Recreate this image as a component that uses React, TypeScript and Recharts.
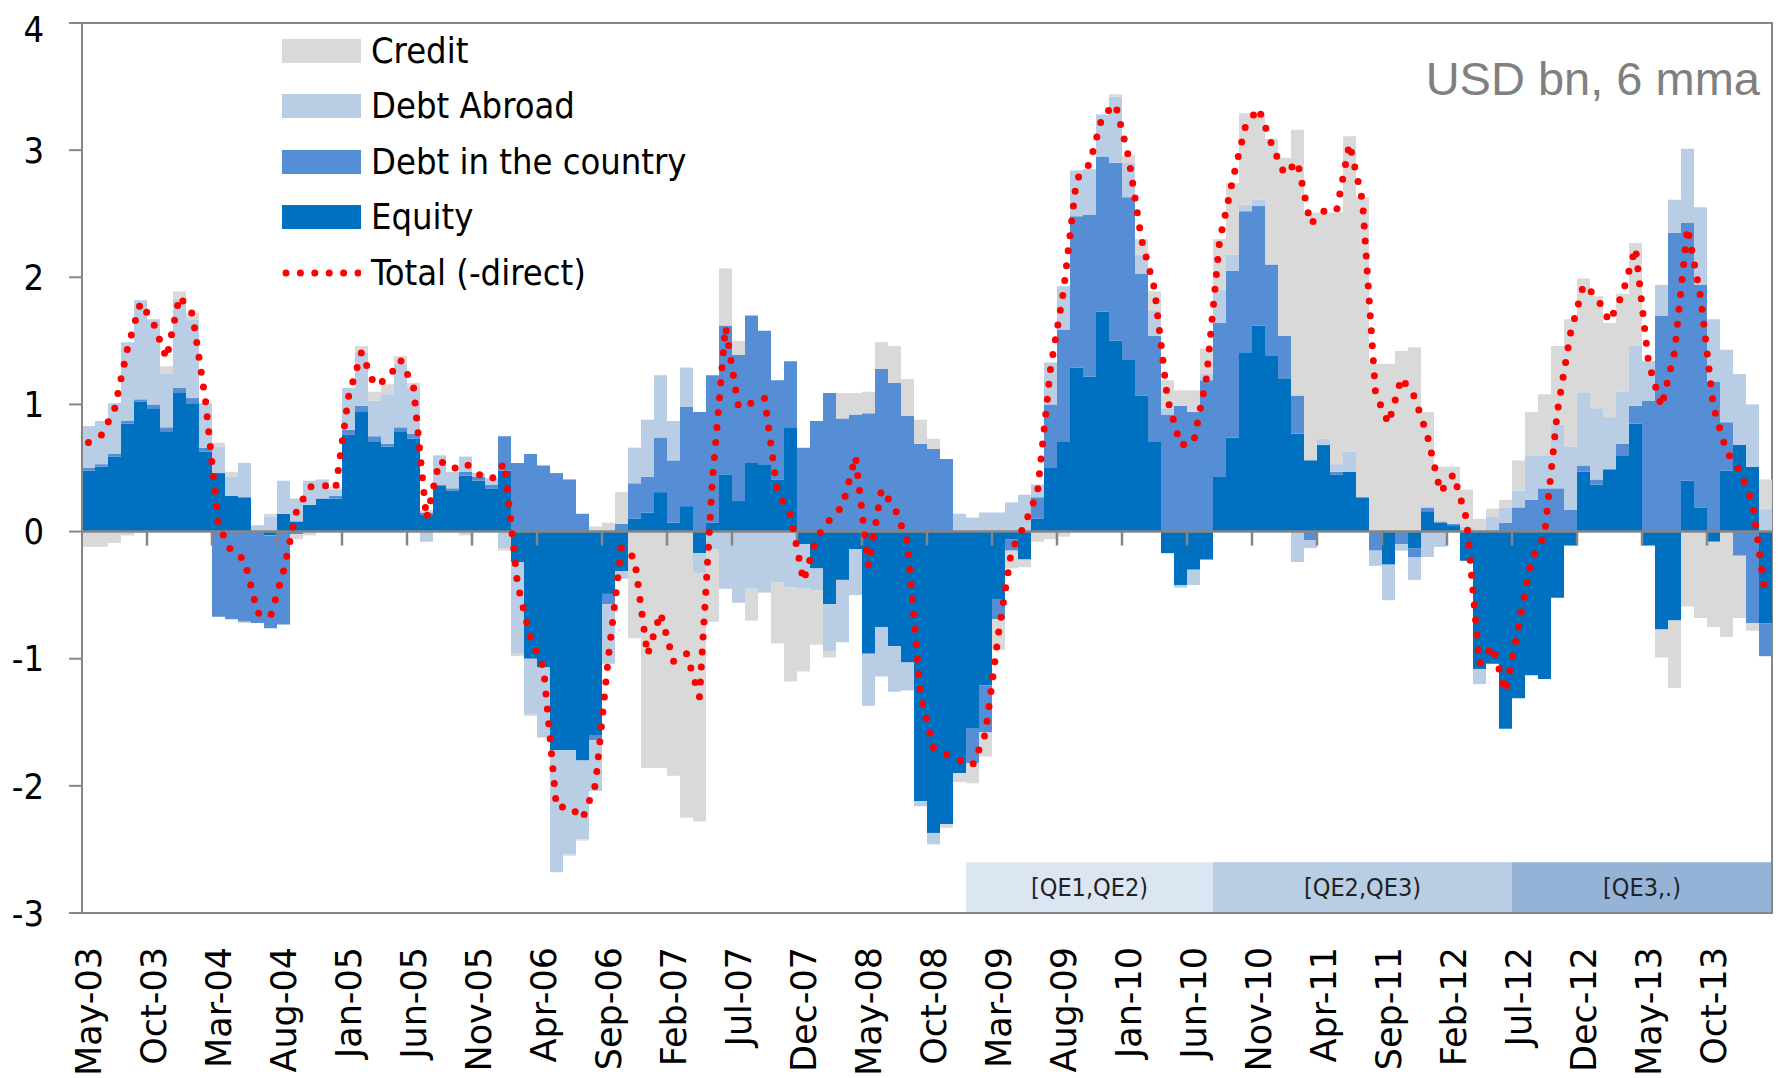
import {
  ComposedChart,
  Bar,
  Line,
  XAxis,
  YAxis,
  ReferenceLine,
  ReferenceArea,
} from "recharts";

const MONTHS = [
  "May-03", "Jun-03", "Jul-03", "Aug-03", "Sep-03", "Oct-03", "Nov-03", "Dec-03",
  "Jan-04", "Feb-04", "Mar-04", "Apr-04", "May-04", "Jun-04", "Jul-04", "Aug-04", "Sep-04", "Oct-04", "Nov-04", "Dec-04",
  "Jan-05", "Feb-05", "Mar-05", "Apr-05", "May-05", "Jun-05", "Jul-05", "Aug-05", "Sep-05", "Oct-05", "Nov-05", "Dec-05",
  "Jan-06", "Feb-06", "Mar-06", "Apr-06", "May-06", "Jun-06", "Jul-06", "Aug-06", "Sep-06", "Oct-06", "Nov-06", "Dec-06",
  "Jan-07", "Feb-07", "Mar-07", "Apr-07", "May-07", "Jun-07", "Jul-07", "Aug-07", "Sep-07", "Oct-07", "Nov-07", "Dec-07",
  "Jan-08", "Feb-08", "Mar-08", "Apr-08", "May-08", "Jun-08", "Jul-08", "Aug-08", "Sep-08", "Oct-08", "Nov-08", "Dec-08",
  "Jan-09", "Feb-09", "Mar-09", "Apr-09", "May-09", "Jun-09", "Jul-09", "Aug-09", "Sep-09", "Oct-09", "Nov-09", "Dec-09",
  "Jan-10", "Feb-10", "Mar-10", "Apr-10", "May-10", "Jun-10", "Jul-10", "Aug-10", "Sep-10", "Oct-10", "Nov-10", "Dec-10",
  "Jan-11", "Feb-11", "Mar-11", "Apr-11", "May-11", "Jun-11", "Jul-11", "Aug-11", "Sep-11", "Oct-11", "Nov-11", "Dec-11",
  "Jan-12", "Feb-12", "Mar-12", "Apr-12", "May-12", "Jun-12", "Jul-12", "Aug-12", "Sep-12", "Oct-12", "Nov-12", "Dec-12",
  "Jan-13", "Feb-13", "Mar-13", "Apr-13", "May-13", "Jun-13", "Jul-13", "Aug-13", "Sep-13", "Oct-13", "Nov-13", "Dec-13",
  "Jan-14", "Feb-14",
];

// USD bn, 6 month moving average
const EQUITY = [
  0.48, 0.51, 0.59, 0.85, 1.02, 0.97, 0.79, 1.09, 1.01, 0.63,
  0.46, 0.28, 0.27, 0, -0.03, 0.14, 0.08, 0.21, 0.26, 0.26,
  0.76, 0.94, 0.71, 0.67, 0.79, 0.73, 0.13, 0.36, 0.32, 0.44,
  0.4, 0.34, 0.48, -0.24, -1.0, -1.07, -1.72, -1.72, -1.8, -1.6,
  -0.49, -0.31, 0.1, 0.15, 0.31, 0.07, 0.2, -0.17, 0.07, 0.45,
  0.24, 0.54, 0.53, 0.41, 0.82, -0.1, -0.29, -0.57, -0.38, -0.14,
  -0.96, -0.75, -0.9, -1.03, -2.12, -2.37, -2.3, -1.9, -1.55, -1.21,
  -0.53, -0.06, -0.22, 0.1, 0.5, 0.71, 1.29, 1.22, 1.73, 1.5,
  1.35, 1.07, 0.71, -0.17, -0.42, -0.3, -0.22, 0.43, 0.74, 1.41,
  1.62, 1.38, 1.2, 0.77, 0.56, 0.68, 0.45, 0.47, 0.27, 0,
  -0.26, 0, -0.13, 0.16, 0.07, 0.05, -0.23, -1.08, -1.04, -1.55,
  -1.31, -1.13, -1.16, -0.52, -0.11, 0.47, 0.37, 0.49, 0.6, 0.85,
  -0.11, -0.77, -0.7, 0.4, 0.19, -0.08, 0.48, 0.68, 0.51, -0.72,
];

const DEBT_IN = [
  0.02, 0.02, 0.02, 0.02, 0.02, 0.03, 0.03, 0.04, 0.04, 0.03,
  -0.67, -0.69, -0.71, -0.72, -0.73, -0.73, -0.02, 0, 0, 0.02,
  0.04, 0.05, 0.04, 0.02, 0.03, 0.04, 0.02, 0.01, 0.02, 0.03,
  0.03, 0.03, 0.27, 0.54, 0.61, 0.52, 0.46, 0.41, 0.14, -0.04,
  -0.08, 0.06, 0.28, 0.28, 0.43, 0.49, 0.78, 0.94, 1.16, 1.17,
  1.15, 1.16, 1.05, 0.78, 0.52, 0.66, 0.87, 1.09, 0.89, 0.92,
  0.93, 1.28, 1.17, 0.91, 0.69, 0.65, 0.57, 0, -0.27, -0.37,
  -0.16, -0.09, 0, 0.17, 0.5, 0.88, 1.19, 1.27, 1.22, 1.4,
  1.28, 0.96, 0.83, 0.92, 0.99, 0.94, 1.19, 1.21, 1.31, 1.11,
  0.94, 0.72, 0.34, 0.3, -0.07, 0, 0.02, 0, 0, -0.15,
  0, -0.1, -0.07, 0.03, 0.01, 0.01, 0, 0, 0, 0.07,
  0.19, 0.25, 0.34, 0.34, 0.17, 0.05, 0.04, 0, 0.09, 0.14,
  1.03, 1.7, 2.35, 2.03, 1.75, 1.18, 0.38, -0.19, -0.72, -0.26,
];

const DEBT_ABROAD = [
  0.33, 0.34, 0.4, 0.62, 0.78, 0.67, 0.42, 0.7, 0.62, 0.35,
  0.21, 0.15, 0.27, 0.05, 0.12, 0.26, 0.18, 0.19, 0.15, 0.05,
  0.33, 0.42, 0.28, 0.39, 0.5, 0.37, -0.08, 0.23, 0.13, 0.12,
  0.03, 0.05, -0.13, -0.72, -0.44, -0.55, -0.96, -0.82, -0.62, -0.4,
  -0.47, -0.06, 0.28, 0.45, 0.49, 0.31, 0.31, -0.16, -0.14, -0.45,
  -0.56, -0.45, -0.48, -0.4, -0.44, -0.35, -0.17, -0.37, -0.49, -0.36,
  -0.41, -0.39, -0.36, -0.22, -0.04, -0.09, 0, 0.14, 0.11, 0.15,
  0.15, 0.23, 0.29, 0.1, 0.33, 0.34, 0.36, 0.36, 0.33, 0.52,
  0.27, 0.15, 0.2, 0.05, -0.02, -0.12, 0.05, 0.26, 0.13, 0.05,
  0.05, 0, 0, -0.24, -0.06, 0.05, 0.06, 0.16, 0, -0.12,
  -0.28, -0.05, -0.18, -0.2, -0.12, 0, 0.04, -0.12, 0.12, 0.12,
  0.13, 0.35, 0.26, 0.5, 0.5, 0.57, 0.56, 0.41, 0.41, 0.47,
  0.31, 0.24, 0.26, 0.58, 0.61, 0.49, 0.57, 0.56, 0.49, 0.18,
];

const CREDIT = [
  -0.12, -0.12, -0.09, -0.03, -0.01, 0, 0.06, 0.06, 0.05, 0,
  0.03, 0.04, -0.01, 0, 0.02, 0, -0.04, -0.03, 0, 0.02,
  0, 0.05, 0.07, 0.08, 0.06, 0.03, 0.02, 0, 0, -0.03,
  0, 0, -0.02, -0.02, -0.01, 0, 0, -0.01, -0.01, 0.04,
  0.07, 0.25, -0.84, -1.86, -1.86, -1.92, -2.25, -1.95, -0.57, 0.45,
  0.11, -0.25, 0, -0.48, -0.74, -0.65, -0.43, -0.05, 0.2, 0.17,
  0.17, 0.21, 0.29, 0.29, 0.19, 0.08, -0.03, -0.07, -0.16, -0.19,
  -0.24, -0.14, -0.06, -0.08, -0.06, -0.04, 0, 0, 0, 0.02,
  0.06, 0.12, 0.15, 0.22, 0.12, 0.17, 0.2, 0.4, 0.56, 0.72,
  0.68, 0.99, 1.4, 2.09, 1.95, 1.78, 1.98, 2.48, 2.36, 1.32,
  1.32, 1.42, 1.45, 0.75, 0.43, 0.45, 0.29, 0.1, 0.06, 0.06,
  0.24, 0.34, 0.48, 0.62, 1.0, 0.9, 0.88, 0.74, 0.77, 0.81,
  0, -0.22, -0.53, -0.59, -0.68, -0.67, -0.83, -0.49, -0.06, 0.23,
];

const TOTAL = [
  0.7, 0.76, 0.96, 1.44, 1.8, 1.64, 1.36, 1.85, 1.71, 1.03,
  0.05, -0.16, -0.22, -0.64, -0.67, -0.31, 0.16, 0.35, 0.37, 0.33,
  1.06, 1.41, 1.15, 1.2, 1.35, 1.14, 0.1, 0.56, 0.49, 0.54,
  0.45, 0.41, 0.54, -0.41, -0.84, -1.07, -2.17, -2.16, -2.26, -1.99,
  -0.98, -0.12, -0.21, -0.97, -0.64, -1.02, -0.96, -1.3, 0.41, 1.61,
  0.98, 1.01, 1.05, 0.31, 0.13, -0.39, -0.05, 0.09, 0.2, 0.59,
  -0.27, 0.33, 0.19, -0.08, -1.29, -1.7, -1.75, -1.8, -1.84, -1.59,
  -0.8, -0.15, 0.05, 0.31, 1.28, 1.89, 2.77, 2.89, 3.27, 3.36,
  2.95, 2.3, 1.91, 1.04, 0.68, 0.7, 1.21, 2.28, 2.76, 3.19,
  3.33, 3.05, 2.81, 2.91, 2.42, 2.52, 2.52, 3.05, 2.6, 1.09,
  0.85, 1.21, 1.06, 0.75, 0.31, 0.45, 0.1, -1.04, -0.9, -1.26,
  -0.75, -0.22, -0.03, 0.95, 1.56, 1.94, 1.85, 1.65, 1.87, 2.23,
  1.33, 0.98, 1.41, 2.39, 1.85, 0.98, 0.63, 0.48, 0.23, -0.52,
];

const Y_TICKS = [-3, -2, -1, 0, 1, 2, 3, 4];

// QE periods shown as boxes along the bottom of the plot
const QE_LABELS = ["[QE1,QE2)", "[QE2,QE3)", "[QE3,.)"];
const QE_START = ["Jan-09", "Aug-10", "Jul-12"];
const QE_END = ["Jul-10", "Jun-12", "Feb-14"];
const QE_COLORS = ["#DCE6F2", "#B9CDE5", "#95B3D7"];

const data = MONTHS.map((month, i) => ({
  month,
  equity: EQUITY[i],
  debtIn: DEBT_IN[i],
  debtAbroad: DEBT_ABROAD[i],
  credit: CREDIT[i],
  total: TOTAL[i],
}));

// tick marks sit between categories, every 5 months
const TICK_MONTHS = MONTHS.filter((_, i) => i > 0 && i % 5 === 0);

const GREY = "#868686";
const NARROW = "'DejaVu Sans Condensed', 'Liberation Sans Narrow', 'DejaVu Sans', sans-serif";

const LEGEND = [
  { name: "Credit", color: "#D9D9D9" },
  { name: "Debt Abroad", color: "#B9CDE5" },
  { name: "Debt in the country", color: "#558ED5" },
  { name: "Equity", color: "#0070C0" },
];

const MonthTick = ({ x, y, payload }: any) => {
  const ty = y + 34;
  return (
    <text
      x={x}
      y={ty}
      transform={`rotate(-90, ${x}, ${ty})`}
      textAnchor="end"
      dominantBaseline="central"
      fontFamily="'DejaVu Sans', Verdana, sans-serif"
      fontSize={35}
      fill="#000"
    >
      {payload.value}
    </text>
  );
};

function ChartLegend() {
  return (
    <div
      style={{
        position: "absolute",
        left: 274,
        top: 15,
        fontFamily: NARROW,
        fontSize: 36,
        color: "#000",
      }}
    >
      {LEGEND.map((item) => (
        <div
          key={item.name}
          style={{ display: "flex", alignItems: "center", height: 55.5 }}
        >
          <div
            style={{ width: 79, height: 24, background: item.color, marginRight: 10 }}
          />
          <span style={{ lineHeight: 1 }}>{item.name}</span>
        </div>
      ))}
      <div style={{ display: "flex", alignItems: "center", height: 55.5 }}>
        <svg width={79} height={24} style={{ marginRight: 10 }}>
          <line
            x1={4}
            y1={12}
            x2={76}
            y2={12}
            stroke="#FF0000"
            strokeWidth={7}
            strokeDasharray="0 14.4"
            strokeLinecap="round"
          />
        </svg>
        <span style={{ lineHeight: 1 }}>Total (-direct)</span>
      </div>
    </div>
  );
}

export default function App() {
  return (
    <div style={{ position: "relative", width: 1775, height: 1070 }}>
      <ComposedChart
        width={1775}
        height={1070}
        data={data}
        stackOffset="sign"
        barCategoryGap={0}
        barGap={0}
        margin={{ top: 15, right: 11, left: 0, bottom: 0 }}
      >
        <XAxis
          dataKey="month"
          interval={4}
          tick={<MonthTick />}
          tickLine={false}
          axisLine={false}
          tickSize={0}
          tickMargin={0}
          height={165}
        />
        <YAxis
          domain={[-3, 4]}
          ticks={Y_TICKS}
          width={74}
          tickSize={13}
          tickMargin={25}
          axisLine={{ stroke: GREY, strokeWidth: 2 }}
          tickLine={{ stroke: GREY, strokeWidth: 2 }}
          tick={{ fontSize: 36, fill: "#000", fontFamily: NARROW }}
          allowDataOverflow
        />
        <Bar dataKey="equity" name="Equity" stackId="a" fill="#0070C0" isAnimationActive={false} />
        <Bar dataKey="debtIn" name="Debt in the country" stackId="a" fill="#558ED5" isAnimationActive={false} />
        <Bar dataKey="debtAbroad" name="Debt Abroad" stackId="a" fill="#B9CDE5" isAnimationActive={false} />
        <Bar dataKey="credit" name="Credit" stackId="a" fill="#D9D9D9" isAnimationActive={false} />
        <ReferenceLine y={0} stroke={GREY} strokeWidth={2.5} />
        {TICK_MONTHS.map((m) => (
          <ReferenceLine
            key={m}
            segment={[
              { x: m, y: 0 },
              { x: m, y: -0.11 },
            ]}
            position="start"
            stroke={GREY}
            strokeWidth={2.5}
          />
        ))}
        {QE_LABELS.map((label, i) => (
          <ReferenceArea
            key={label}
            x1={QE_START[i]}
            x2={QE_END[i]}
            y1={-3}
            y2={-2.6}
            fill={QE_COLORS[i]}
            fillOpacity={1}
            stroke="none"
            label={{
              value: label,
              position: "center",
              fill: "#222",
              fontSize: 25,
              fontFamily: NARROW,
            }}
          />
        ))}
        <Line
          type="linear"
          dataKey="total"
          name="Total (-direct)"
          stroke="#FF0000"
          strokeWidth={7}
          strokeDasharray="0 15"
          strokeLinecap="round"
          dot={false}
          activeDot={false}
          isAnimationActive={false}
        />
        <ReferenceArea
          x1={MONTHS[0]}
          x2={MONTHS[MONTHS.length - 1]}
          y1={-3}
          y2={4}
          fill="none"
          stroke={GREY}
          strokeWidth={2}
        />
      </ComposedChart>
      <ChartLegend />
      <div
        style={{
          position: "absolute",
          right: 23,
          top: 47,
          fontFamily: "'Liberation Sans', Arial, sans-serif",
          fontSize: 47,
          color: "#808080",
          lineHeight: 1,
        }}
      >
        USD bn, 6 mma
      </div>
    </div>
  );
}
